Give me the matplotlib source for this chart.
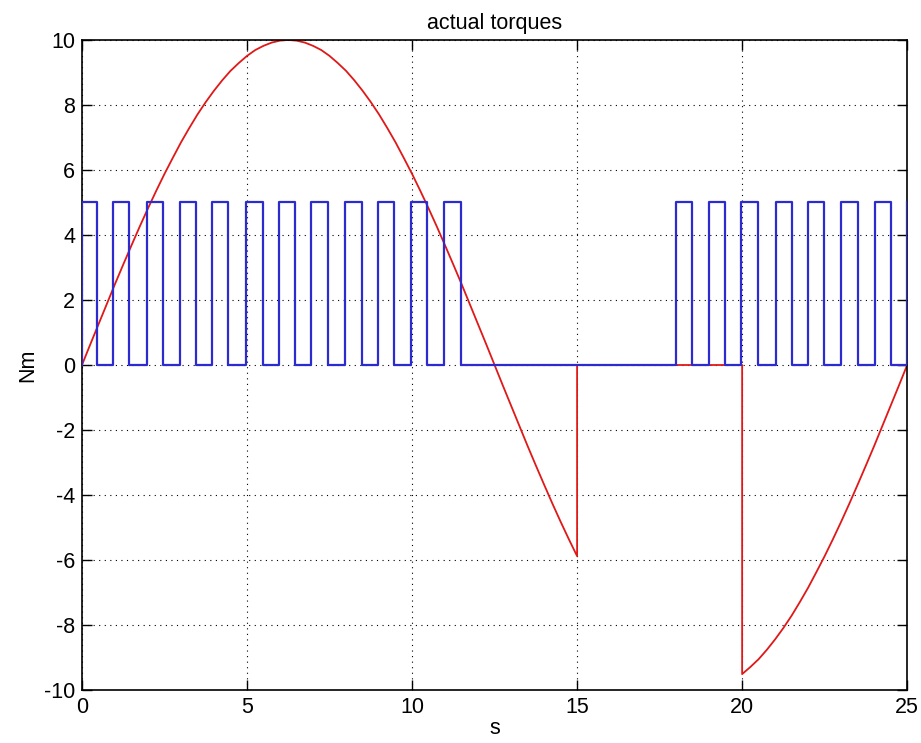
import matplotlib
matplotlib.use('Agg')
import matplotlib.pyplot as plt

plt.rcParams['font.family'] = ['Liberation Sans', 'DejaVu Sans']
plt.rcParams['axes.unicode_minus'] = False

# red torque (Nm)
red_t = [0, 0.25, 0.5, 0.75, 1, 1.25, 1.5, 1.75, 2, 2.25, 2.5, 2.75, 3,
         3.25, 3.5, 3.75, 4, 4.25, 4.5, 4.75, 5, 5.25, 5.5, 5.75, 6, 6.25,
         6.5, 6.75, 7, 7.25, 7.5, 7.75, 8, 8.25, 8.5, 8.75, 9, 9.25, 9.5,
         9.75, 10, 10.25, 10.5, 10.75, 11, 11.25, 11.5, 11.75, 12, 12.25,
         12.5, 12.75, 13, 13.25, 13.5, 13.75, 14, 14.25, 14.5, 14.75, 15,
         15, 20,
         20, 20.25, 20.5, 20.75, 21, 21.25, 21.5, 21.75, 22, 22.25, 22.5,
         22.75, 23, 23.25, 23.5, 23.75, 24, 24.25, 24.5, 24.75, 25]
red_v = [0, 0.63, 1.25, 1.87, 2.49, 3.09, 3.68, 4.26, 4.82, 5.36, 5.88,
         6.37, 6.85, 7.29, 7.71, 8.09, 8.44, 8.76, 9.05, 9.29, 9.51, 9.69,
         9.82, 9.92, 9.98, 10.0, 9.98, 9.92, 9.82, 9.69, 9.51, 9.29, 9.05,
         8.76, 8.44, 8.09, 7.71, 7.29, 6.85, 6.37, 5.88, 5.36, 4.82, 4.26,
         3.68, 3.09, 2.49, 1.87, 1.25, 0.63, 0, -0.63, -1.25, -1.87, -2.49,
         -3.09, -3.68, -4.26, -4.82, -5.36, -5.88,
         0, 0,
         -9.51, -9.29, -9.05, -8.76, -8.44, -8.09, -7.71, -7.29, -6.85,
         -6.37, -5.88, -5.36, -4.82, -4.26, -3.68, -3.09, -2.49, -1.87,
         -1.25, -0.63, 0]

# blue torque: switching instants and level after each instant
blue_t = [0, 0, 0.45, 0.93, 1.42, 1.98, 2.46, 2.97, 3.44, 3.94, 4.43,
          4.97, 5.47, 5.97, 6.45, 6.94, 7.44, 7.97, 8.49, 8.98, 9.45,
          9.96, 10.45, 10.97, 11.48,
          18.0, 18.49, 18.99, 19.47, 19.97, 20.48, 21.02, 21.52, 21.99,
          22.48, 22.99, 23.52, 24.03, 24.52, 25.0, 25.0]
blue_v = [0, 5, 0, 5, 0, 5, 0, 5, 0, 5, 0,
          5, 0, 5, 0, 5, 0, 5, 0, 5, 0,
          5, 0, 5, 0,
          5, 0, 5, 0, 5, 0, 5, 0, 5,
          0, 5, 0, 5, 0, 5, 5]

fig = plt.figure(figsize=(9.21, 7.43), dpi=100)
ax = fig.add_axes([0.089, 0.0713, 0.896, 0.8749])

ax.plot(red_t, red_v, color='#e01818', lw=1.3, zorder=2)
ax.plot(blue_t, blue_v, color='#2b2bd0', lw=1.6, drawstyle='steps-post', zorder=3)

ax.set_xlim(0, 25)
ax.set_ylim(-10, 10)
ax.set_xticks(range(0, 26, 5))
ax.set_yticks(range(-10, 11, 2))
ax.grid(True, color='black', linestyle=(0, (1, 4)), lw=0.8)
ax.tick_params(direction='in', length=7, width=1, top=True, right=True,
               labelsize=15.5, pad=5)
for s in ax.spines.values():
    s.set_linewidth(1.2)

ax.set_title('actual torques', fontsize=15.5, pad=8)
ax.set_xlabel('s', fontsize=15.5, labelpad=0)
ax.set_ylabel('Nm', fontsize=15.5, labelpad=4)

plt.savefig('out.png', dpi=100, facecolor='white')
plt.close()
